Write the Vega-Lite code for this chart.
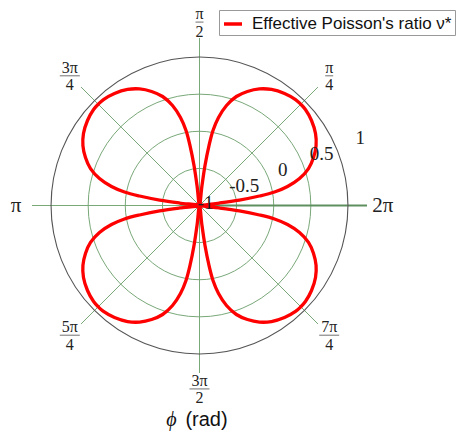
{
  "$schema": "https://vega.github.io/schema/vega-lite/v6.json",
  "width": 335,
  "height": 335,
  "autosize": {"type": "none"},
  "padding": {"left": 32, "top": 38, "right": 94, "bottom": 59},
  "background": "white",
  "config": {"view": {"stroke": null}},
  "datasets": {
    "curve": [
      {"phi": 0, "nu": -1}, {"phi": 7.1, "nu": -0.76}, {"phi": 7.8, "nu": -0.52}, {"phi": 9.0, "nu": -0.275}, {"phi": 10.2, "nu": -0.09}, {"phi": 12.2, "nu": 0.075}, {"phi": 15.1, "nu": 0.237}, {"phi": 18.7, "nu": 0.374}, {"phi": 22.8, "nu": 0.477}, {"phi": 27.2, "nu": 0.565}, {"phi": 31.8, "nu": 0.63}, {"phi": 37.2, "nu": 0.679}, {"phi": 42.2, "nu": 0.707}, {"phi": 45, "nu": 0.71}, {"phi": 47.8, "nu": 0.707}, {"phi": 52.8, "nu": 0.679}, {"phi": 58.2, "nu": 0.63}, {"phi": 62.8, "nu": 0.565}, {"phi": 67.2, "nu": 0.477}, {"phi": 71.3, "nu": 0.374}, {"phi": 74.9, "nu": 0.237}, {"phi": 77.8, "nu": 0.075}, {"phi": 79.8, "nu": -0.09}, {"phi": 81.0, "nu": -0.275}, {"phi": 82.2, "nu": -0.52}, {"phi": 82.9, "nu": -0.76},
      {"phi": 90, "nu": -1}, {"phi": 97.1, "nu": -0.76}, {"phi": 97.8, "nu": -0.52}, {"phi": 99.0, "nu": -0.275}, {"phi": 100.2, "nu": -0.09}, {"phi": 102.2, "nu": 0.075}, {"phi": 105.1, "nu": 0.237}, {"phi": 108.7, "nu": 0.374}, {"phi": 112.8, "nu": 0.477}, {"phi": 117.2, "nu": 0.565}, {"phi": 121.8, "nu": 0.63}, {"phi": 127.2, "nu": 0.679}, {"phi": 132.2, "nu": 0.707}, {"phi": 135, "nu": 0.71}, {"phi": 137.8, "nu": 0.707}, {"phi": 142.8, "nu": 0.679}, {"phi": 148.2, "nu": 0.63}, {"phi": 152.8, "nu": 0.565}, {"phi": 157.2, "nu": 0.477}, {"phi": 161.3, "nu": 0.374}, {"phi": 164.9, "nu": 0.237}, {"phi": 167.8, "nu": 0.075}, {"phi": 169.8, "nu": -0.09}, {"phi": 171.0, "nu": -0.275}, {"phi": 172.2, "nu": -0.52}, {"phi": 172.9, "nu": -0.76},
      {"phi": 180, "nu": -1}, {"phi": 187.1, "nu": -0.76}, {"phi": 187.8, "nu": -0.52}, {"phi": 189.0, "nu": -0.275}, {"phi": 190.2, "nu": -0.09}, {"phi": 192.2, "nu": 0.075}, {"phi": 195.1, "nu": 0.237}, {"phi": 198.7, "nu": 0.374}, {"phi": 202.8, "nu": 0.477}, {"phi": 207.2, "nu": 0.565}, {"phi": 211.8, "nu": 0.63}, {"phi": 217.2, "nu": 0.679}, {"phi": 222.2, "nu": 0.707}, {"phi": 225, "nu": 0.71}, {"phi": 227.8, "nu": 0.707}, {"phi": 232.8, "nu": 0.679}, {"phi": 238.2, "nu": 0.63}, {"phi": 242.8, "nu": 0.565}, {"phi": 247.2, "nu": 0.477}, {"phi": 251.3, "nu": 0.374}, {"phi": 254.9, "nu": 0.237}, {"phi": 257.8, "nu": 0.075}, {"phi": 259.8, "nu": -0.09}, {"phi": 261.0, "nu": -0.275}, {"phi": 262.2, "nu": -0.52}, {"phi": 262.9, "nu": -0.76},
      {"phi": 270, "nu": -1}, {"phi": 277.1, "nu": -0.76}, {"phi": 277.8, "nu": -0.52}, {"phi": 279.0, "nu": -0.275}, {"phi": 280.2, "nu": -0.09}, {"phi": 282.2, "nu": 0.075}, {"phi": 285.1, "nu": 0.237}, {"phi": 288.7, "nu": 0.374}, {"phi": 292.8, "nu": 0.477}, {"phi": 297.2, "nu": 0.565}, {"phi": 301.8, "nu": 0.63}, {"phi": 307.2, "nu": 0.679}, {"phi": 312.2, "nu": 0.707}, {"phi": 315, "nu": 0.71}, {"phi": 317.8, "nu": 0.707}, {"phi": 322.8, "nu": 0.679}, {"phi": 328.2, "nu": 0.63}, {"phi": 332.8, "nu": 0.565}, {"phi": 337.2, "nu": 0.477}, {"phi": 341.3, "nu": 0.374}, {"phi": 344.9, "nu": 0.237}, {"phi": 347.8, "nu": 0.075}, {"phi": 349.8, "nu": -0.09}, {"phi": 351.0, "nu": -0.275}, {"phi": 352.2, "nu": -0.52}, {"phi": 352.9, "nu": -0.76},
      {"phi": 360, "nu": -1}
    ],
    "rings": [
      {"r": -1, "t": "-1"}, {"r": -0.5, "t": "-0.5"}, {"r": 0, "t": "0"}, {"r": 0.5, "t": "0.5"}, {"r": 1, "t": "1"}
    ],
    "spokes": [
      {"phi": 0}, {"phi": 45}, {"phi": 90}, {"phi": 135}, {"phi": 180}, {"phi": 225}, {"phi": 270}, {"phi": 315}
    ],
    "alabels": [
      {"phi": 0, "whole": "2π"},
      {"phi": 45, "num": "π", "den": "4"},
      {"phi": 90, "num": "π", "den": "2"},
      {"phi": 135, "num": "3π", "den": "4"},
      {"phi": 180, "whole": "π"},
      {"phi": 225, "num": "5π", "den": "4"},
      {"phi": 270, "num": "3π", "den": "2"},
      {"phi": 315, "num": "7π", "den": "4"}
    ],
    "axtitle": [{"sym": "ϕ", "txt": "(rad)", "tx": 0, "ty": -2.56}]
  },
  "layer": [
    {
      "data": {"name": "rings"},
      "transform": [{"filter": "datum.r > -1 && datum.r < 1"}, {"calculate": "datum.r + 1", "as": "rho"}, {"calculate": "0", "as": "ox"}],
      "mark": {"type": "point", "shape": "circle", "filled": false, "stroke": "#79a879", "strokeWidth": 1, "opacity": 1},
      "encoding": {
        "x": {"field": "ox", "type": "quantitative", "scale": {"domain": [-2, 2], "nice": false, "zero": false}, "axis": null},
        "y": {"field": "ox", "type": "quantitative", "scale": {"domain": [-2, 2], "nice": false, "zero": false}, "axis": null},
        "size": {"field": "rho", "type": "quantitative", "scale": {"type": "pow", "exponent": 2, "domain": [0, 2], "range": [0, 88141]}, "legend": null}
      }
    },
    {
      "data": {"name": "spokes"},
      "transform": [
        {"calculate": "0", "as": "ox"},
        {"calculate": "2*cos(datum.phi*PI/180)", "as": "sx"},
        {"calculate": "2*sin(datum.phi*PI/180)", "as": "sy"}
      ],
      "mark": {"type": "rule", "stroke": "#79a879", "strokeWidth": 1},
      "encoding": {
        "x": {"field": "ox", "type": "quantitative"},
        "y": {"field": "ox", "type": "quantitative"},
        "x2": {"field": "sx"},
        "y2": {"field": "sy"}
      }
    },
    {
      "data": {"name": "spokes"},
      "transform": [
        {"filter": "datum.phi == 0"},
        {"calculate": "0", "as": "ox"},
        {"calculate": "2*cos(datum.phi*PI/180)", "as": "sx"},
        {"calculate": "2*sin(datum.phi*PI/180)", "as": "sy"}
      ],
      "mark": {"type": "rule", "stroke": "#5e8f5e", "strokeWidth": 2},
      "encoding": {
        "x": {"field": "ox", "type": "quantitative"},
        "y": {"field": "ox", "type": "quantitative"},
        "x2": {"field": "sx"},
        "y2": {"field": "sy"}
      }
    },
    {
      "data": {"name": "rings"},
      "transform": [{"filter": "datum.r == 1"}, {"calculate": "datum.r + 1", "as": "rho"}, {"calculate": "0", "as": "ox"}],
      "mark": {"type": "point", "shape": "circle", "filled": false, "stroke": "#555555", "strokeWidth": 1.1, "opacity": 1},
      "encoding": {
        "x": {"field": "ox", "type": "quantitative"},
        "y": {"field": "ox", "type": "quantitative"},
        "size": {"field": "rho", "type": "quantitative", "legend": null}
      }
    },
    {
      "data": {"name": "curve"},
      "transform": [
        {"calculate": "(datum.nu+1)*cos(datum.phi*PI/180)", "as": "cx"},
        {"calculate": "(datum.nu+1)*sin(datum.phi*PI/180)", "as": "cy"},
        {"calculate": "'Effective Poisson\\'s ratio ν*'", "as": "series"}
      ],
      "mark": {"type": "line", "strokeWidth": 3.3, "interpolate": "catmull-rom", "clip": false},
      "encoding": {
        "x": {"field": "cx", "type": "quantitative"},
        "y": {"field": "cy", "type": "quantitative"},
        "order": {"field": "phi", "type": "quantitative"},
        "color": {
          "field": "series",
          "type": "nominal",
          "scale": {"range": ["#ff0000"]},
          "legend": {
            "orient": "none",
            "legendX": 187,
            "legendY": -28,
            "title": null,
            "strokeColor": "#999999",
            "fillColor": "white",
            "padding": 3,
            "symbolType": "stroke",
            "symbolSize": 324,
            "symbolStrokeWidth": 3.5,
            "labelFont": "Liberation Sans",
            "labelFontSize": 17,
            "labelColor": "#111111",
            "labelOffset": 8,
            "labelLimit": 400
          }
        }
      }
    },
    {
      "data": {"name": "rings"},
      "transform": [
        {"calculate": "(datum.r+1)*cos(PI/8)", "as": "lx"},
        {"calculate": "(datum.r+1)*sin(PI/8)", "as": "ly"}
      ],
      "mark": {"type": "text", "font": "Liberation Serif", "fontSize": 19, "align": "center", "baseline": "middle", "dx": 6, "dy": -3, "color": "#222222"},
      "encoding": {
        "x": {"field": "lx", "type": "quantitative"},
        "y": {"field": "ly", "type": "quantitative"},
        "text": {"field": "t", "type": "nominal"}
      }
    },
    {
      "data": {"name": "alabels"},
      "transform": [
        {"filter": "datum.whole"},
        {"calculate": "2.19*cos(datum.phi*PI/180)", "as": "lx"},
        {"calculate": "2.19*sin(datum.phi*PI/180)", "as": "ly"}
      ],
      "mark": {"type": "text", "font": "Liberation Serif", "fontSize": 21, "align": "center", "baseline": "middle", "color": "#222222"},
      "encoding": {
        "x": {"field": "lx", "type": "quantitative"},
        "y": {"field": "ly", "type": "quantitative"},
        "text": {"field": "whole", "type": "nominal"}
      }
    },
    {
      "data": {"name": "alabels"},
      "transform": [
        {"filter": "datum.num"},
        {"calculate": "2.19*cos(datum.phi*PI/180)", "as": "lx"},
        {"calculate": "2.19*sin(datum.phi*PI/180)", "as": "ly"}
      ],
      "mark": {"type": "text", "font": "Liberation Serif", "fontSize": 16, "align": "center", "baseline": "alphabetic", "dy": -3, "color": "#222222"},
      "encoding": {
        "x": {"field": "lx", "type": "quantitative"},
        "y": {"field": "ly", "type": "quantitative"},
        "text": {"field": "num", "type": "nominal"}
      }
    },
    {
      "data": {"name": "alabels"},
      "transform": [
        {"filter": "datum.num"},
        {"calculate": "2.19*cos(datum.phi*PI/180)", "as": "lx"},
        {"calculate": "2.19*sin(datum.phi*PI/180)", "as": "ly"}
      ],
      "mark": {"type": "text", "font": "Liberation Serif", "fontSize": 16, "align": "center", "baseline": "alphabetic", "dy": 14.5, "color": "#222222"},
      "encoding": {
        "x": {"field": "lx", "type": "quantitative"},
        "y": {"field": "ly", "type": "quantitative"},
        "text": {"field": "den", "type": "nominal"}
      }
    },
    {
      "data": {"name": "alabels"},
      "transform": [
        {"filter": "datum.num && length(datum.num) == 1"},
        {"calculate": "2.19*cos(datum.phi*PI/180)", "as": "lx"},
        {"calculate": "2.19*sin(datum.phi*PI/180)", "as": "ly"}
      ],
      "mark": {"type": "tick", "orient": "horizontal", "color": "#333333", "thickness": 1, "size": 8},
      "encoding": {
        "x": {"field": "lx", "type": "quantitative"},
        "y": {"field": "ly", "type": "quantitative"}
      }
    },
    {
      "data": {"name": "alabels"},
      "transform": [
        {"filter": "datum.num && length(datum.num) > 1"},
        {"calculate": "2.19*cos(datum.phi*PI/180)", "as": "lx"},
        {"calculate": "2.19*sin(datum.phi*PI/180)", "as": "ly"}
      ],
      "mark": {"type": "tick", "orient": "horizontal", "color": "#333333", "thickness": 1, "size": 20},
      "encoding": {
        "x": {"field": "lx", "type": "quantitative"},
        "y": {"field": "ly", "type": "quantitative"}
      }
    },
    {
      "data": {"name": "axtitle"},
      "mark": {"type": "text", "font": "Liberation Serif", "fontStyle": "italic", "fontSize": 20, "align": "center", "baseline": "middle", "dx": -28, "color": "#111111"},
      "encoding": {
        "x": {"field": "tx", "type": "quantitative"},
        "y": {"field": "ty", "type": "quantitative"},
        "text": {"field": "sym", "type": "nominal"}
      }
    },
    {
      "data": {"name": "axtitle"},
      "mark": {"type": "text", "font": "Liberation Sans", "fontSize": 20, "align": "center", "baseline": "middle", "dx": 7, "color": "#111111"},
      "encoding": {
        "x": {"field": "tx", "type": "quantitative"},
        "y": {"field": "ty", "type": "quantitative"},
        "text": {"field": "txt", "type": "nominal"}
      }
    }
  ]
}
